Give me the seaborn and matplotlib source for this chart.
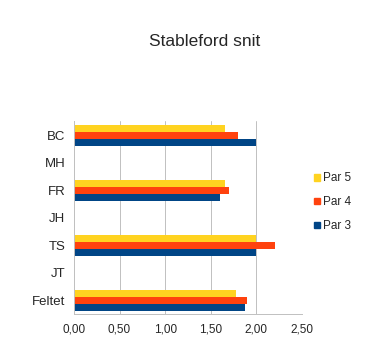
import pandas as pd
import matplotlib
matplotlib.use("Agg")
import matplotlib.pyplot as plt
from matplotlib.patches import Rectangle
from matplotlib.ticker import FuncFormatter, FixedLocator
import seaborn as sns

# data
players = ["BC", "MH", "FR", "JH", "TS", "JT", "Feltet"]
with_data = ["BC", "FR", "TS", "Feltet"]
par5 = [1.66, 1.66, 2.00, 1.78]
par4 = [1.80, 1.70, 2.20, 1.90]
par3 = [2.00, 1.60, 2.00, 1.87]
series = ["Par 5", "Par 4", "Par 3"]
colors = ["#ffd320", "#ff420e", "#004586"]

rows = []
for name, vals in zip(series, [par5, par4, par3]):
    for p, v in zip(with_data, vals):
        rows.append({"player": p, "serie": name, "snit": v})
df = pd.DataFrame(rows)

sns.set_style("white")
plt.rcParams["font.family"] = ["Liberation Sans", "DejaVu Sans"]

fig = plt.figure(figsize=(3.79, 3.58), dpi=100)
ax = fig.add_axes([0.195, 0.123, 0.602, 0.538])

sns.barplot(data=df, y="player", x="snit", hue="serie", order=players,
            hue_order=series, palette=colors, orient="h", width=0.76,
            saturation=1, linewidth=0, ax=ax, legend=False)

ax.set_xlim(0, 2.5)
ax.set_ylim(6.5, -0.5)
ax.set_xticks([0, 0.5, 1.0, 1.5, 2.0, 2.5])
ax.xaxis.set_major_formatter(FuncFormatter(lambda v, _: f"{v:.2f}".replace(".", ",")))
ax.grid(axis="x", color="#c0c0c0", linewidth=0.7)
ax.set_axisbelow(True)
ax.set_xlabel("")
ax.set_ylabel("")

for s in ["top", "right"]:
    ax.spines[s].set_visible(False)
for s in ["left", "bottom"]:
    ax.spines[s].set_color("#c0c0c0")
    ax.spines[s].set_linewidth(0.7)

ax.tick_params(axis="y", which="major", length=0, labelsize=9.5, pad=6)
ax.yaxis.set_minor_locator(FixedLocator([i - 0.5 for i in range(len(players) + 1)]))
ax.tick_params(axis="y", which="minor", length=3, color="#c0c0c0", width=0.7)
ax.tick_params(axis="x", length=3, color="#c0c0c0", width=0.7, labelsize=8.5, pad=4)

handles = [Rectangle((0, 0), 1, 1, color=c) for c in colors]
fig.legend(handles, series, loc="center left", bbox_to_anchor=(0.828, 0.435),
           frameon=False, fontsize=8.5, handlelength=0.5, handleheight=0.5,
           handletextpad=0.25, labelspacing=1.0, borderpad=0, borderaxespad=0)

fig.text(0.54, 0.885, "Stableford snit", ha="center", va="center", fontsize=12.5)

fig.savefig("out.png", dpi=100)
